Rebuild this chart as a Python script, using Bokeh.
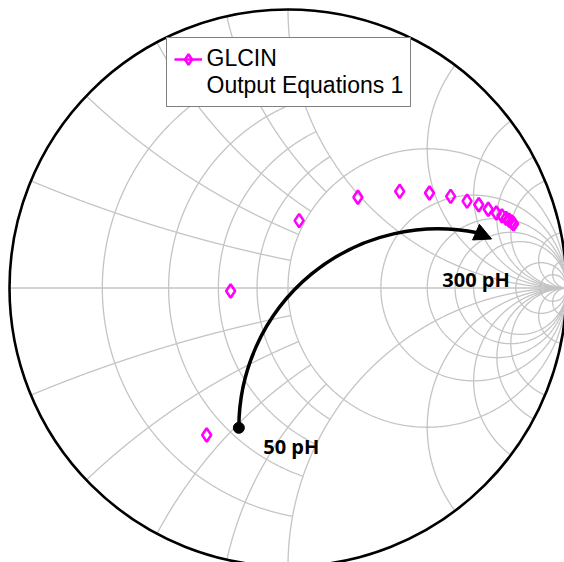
import numpy as np
from bokeh.plotting import figure
from bokeh.models import Range1d, Legend, LegendItem, Arrow, NormalHead
from bokeh.embed import file_html
from bokeh.resources import INLINE
from bokeh.core.properties import value

glcin_re = [-0.292, -0.206, 0.040, 0.251, 0.401, 0.508, 0.584, 0.643,
            0.685, 0.719, 0.748, 0.768, 0.783, 0.794, 0.803, 0.810]
glcin_im = [-0.528, -0.011, 0.242, 0.326, 0.347, 0.341, 0.329, 0.312,
            0.299, 0.283, 0.269, 0.259, 0.250, 0.243, 0.237, 0.231]

# Smith chart grid: resistance circles / reactance arcs and their extents
INF = float("inf")
r_values = [0.2, 0.4, 0.6, 0.8, 1.0, 2.0, 3.0, 4.0, 5.0, 10.0, 20.0]
r_xlimit = [1.0, 1.0, 1.0, 1.0, INF, INF, INF, INF, INF, INF, INF]
x_values = [0.2, 0.4, 0.6, 0.8, 1.0, 2.0, 3.0, 4.0, 5.0, 10.0, 20.0]
x_rlimit = [1.0, 1.0, 1.0, 1.0, INF, INF, INF, INF, INF, INF, INF]

# annotation: inductance sweep arrow (in reflection-coefficient units)
sweep_center = (0.538, -0.502)
sweep_radius = 0.7145
sweep_start_deg = 180.0
sweep_end_deg = 78.5
sweep_tip = (0.731, 0.176)
label_x = [-0.089, 0.554]
label_y = [-0.569, 0.031]
label_txt = ["50 pH", "300 pH"]

legend_name = "GLCIN"
legend_sub = "Output Equations 1"


def gamma(z):
    return (z - 1) / (z + 1)


def lim_angle(v):
    return np.pi / 2 - 1e-5 if np.isinf(v) else np.arctan(v)


xs, ys = [], []
for r, xm in zip(r_values, r_xlimit):
    t = np.linspace(-lim_angle(xm), lim_angle(xm), 900)
    g = gamma(r + 1j * np.tan(t))
    xs.append(g.real)
    ys.append(g.imag)
for xv, rm in zip(x_values, x_rlimit):
    s = np.linspace(0, lim_angle(rm), 900)
    for sign in (1, -1):
        g = gamma(np.tan(s) + 1j * sign * xv)
        xs.append(g.real)
        ys.append(g.imag)
xs.append(np.array([-1.0, 1.0]))
ys.append(np.array([0.0, 0.0]))

W, H = 564, 562
cx_pix, cy_pix, R_pix = 287.5, 287.5, 278.5  # chart centre within the figure
p = figure(width=W, height=H, output_backend="svg", toolbar_location=None,
           x_axis_type=None, y_axis_type=None, min_border=0,
           x_range=Range1d(-cx_pix / R_pix, (W - cx_pix) / R_pix),
           y_range=Range1d(-(H - cy_pix) / R_pix, cy_pix / R_pix))
p.grid.visible = False
p.outline_line_color = None
p.background_fill_color = "white"

p.multi_line(xs=xs, ys=ys, line_color="#c4c4c4", line_width=1.3)
p.circle(x=[0], y=[0], radius=1.0, fill_alpha=0, line_color="black", line_width=2.6)

magenta = "#ff00ff"
leg_line = p.line(x=np.array([np.nan]), y=np.array([np.nan]), line_color=magenta, line_width=2.5)
pts = p.scatter(x=glcin_re, y=glcin_im, marker="diamond", size=13.5,
                fill_alpha=0, line_color=magenta, line_width=2.6)
dummy = p.line(x=[], y=[], line_alpha=0)

# sweep arrow
p.arc(x=[sweep_center[0]], y=[sweep_center[1]], radius=sweep_radius,
      start_angle=np.radians(sweep_end_deg), end_angle=np.radians(sweep_start_deg),
      line_color="black", line_width=3.5)
a0 = np.radians(sweep_start_deg)
a1 = np.radians(sweep_end_deg)
p.scatter(x=[sweep_center[0] + sweep_radius * np.cos(a0)],
          y=[sweep_center[1] + sweep_radius * np.sin(a0)],
          size=11, color="black")
p.add_layout(Arrow(end=NormalHead(size=17, fill_color="black", line_color="black", line_width=1),
                   x_start=sweep_center[0] + sweep_radius * np.cos(a1),
                   y_start=sweep_center[1] + sweep_radius * np.sin(a1),
                   x_end=sweep_tip[0], y_end=sweep_tip[1],
                   line_color="black", line_width=3.5))
p.text(x=label_x, y=label_y, text=label_txt, text_font=value("Open Sans"),
       text_font_style="bold", text_font_size="20px", text_color="black",
       text_baseline="alphabetic", text_align="left")

legend = Legend(items=[LegendItem(label=legend_name, renderers=[leg_line, pts]),
                       LegendItem(label=legend_sub, renderers=[dummy])],
                location=(165.5, H - 107.3), orientation="vertical",
                border_line_color="black", border_line_width=1,
                background_fill_color="white", background_fill_alpha=1.0,
                label_text_font="Liberation Sans", label_text_font_size="23px",
                label_text_color="black", glyph_width=28, glyph_height=26,
                label_standoff=5, padding=7, spacing=0, margin=0)
p.add_layout(legend)

open("out.html", "w").write(file_html(p, INLINE))
